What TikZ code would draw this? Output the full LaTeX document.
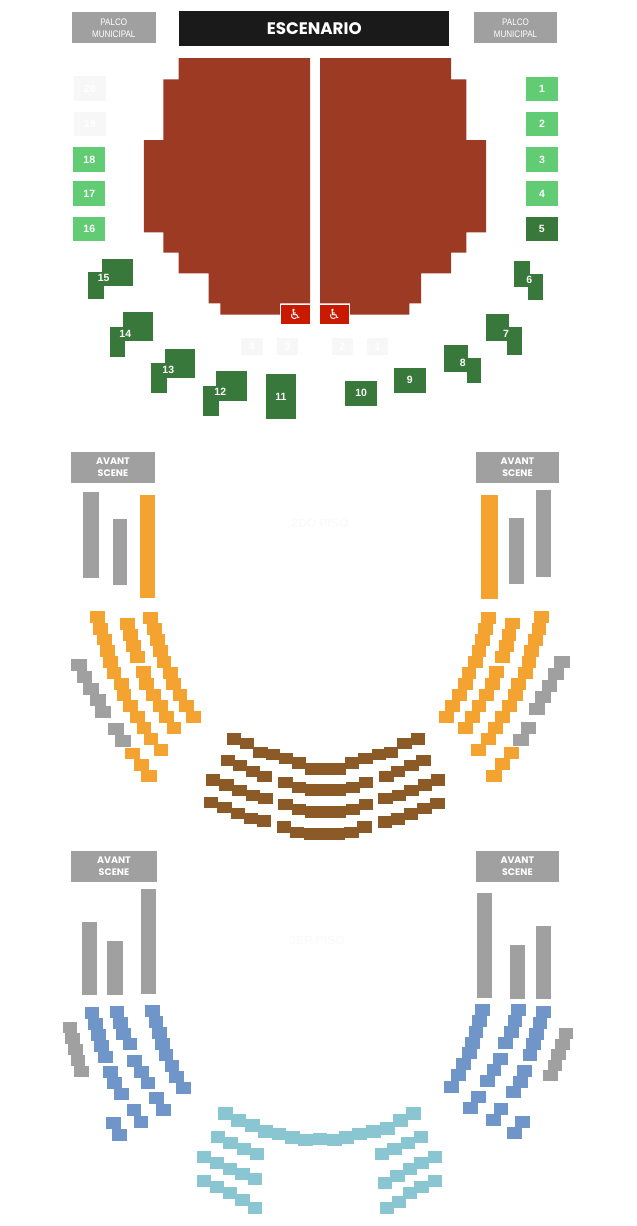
\documentclass[tikz,border=0pt]{standalone}
\usepackage{fontspec}
\setmainfont{Liberation Sans}
\newfontfamily\headfont{Poppins}
\newfontfamily\narrowfont[FakeStretch=0.85]{Liberation Sans}
\newfontfamily\symbfont{DejaVu Sans}
\definecolor{stalls}{HTML}{9C3A24}
\definecolor{stagecol}{HTML}{1A1A1A}
\definecolor{soldgrey}{HTML}{A0A0A0}
\definecolor{lightgreen}{HTML}{62CC75}
\definecolor{darkgreen}{HTML}{38783A}
\definecolor{accessred}{HTML}{C91A00}
\definecolor{faint}{HTML}{F7F7F7}
\definecolor{fainter}{HTML}{FAFAFA}
\definecolor{orangeseat}{HTML}{F4A230}
\definecolor{brownseat}{HTML}{8B5A27}
\definecolor{blueseat}{HTML}{7096C9}
\definecolor{tealseat}{HTML}{8AC6D1}
\tikzset{
  block/.style={inner sep=0pt,outer sep=0pt,align=center},
  palco/.style={block,fill=soldgrey,text=white,minimum width=83.5,minimum height=31,font=\narrowfont\fontsize{9.5}{12}\selectfont},
  avant/.style={block,fill=soldgrey,text=white,minimum width=83.3,minimum height=31,font=\headfont\bfseries\fontsize{9.5}{11.7}\selectfont},
  numbox/.style={block,text=white,minimum width=32,minimum height=24.7,font=\bfseries\fontsize{10.5}{11}\selectfont},
  lightbox/.style={numbox,fill=lightgreen},
  greenbox/.style={numbox,fill=darkgreen},
  emptybox/.style={numbox,fill=faint},
  smallbox/.style={emptybox,minimum width=21.3,minimum height=17.3},
  numlabel/.style={block,text=white,font=\bfseries\fontsize{10.5}{11}\selectfont},
  access/.style={block,fill=accessred,draw=white,line width=0.7,text=white,minimum width=29.6,minimum height=20,font=\symbfont\fontsize{14}{14}\selectfont},
  floorname/.style={block,text=fainter,font=\bfseries\fontsize{12}{12}\selectfont},
  barrow/.style={fill=soldgrey}
}
\begin{document}
\begin{tikzpicture}[x=1pt,y=-1pt]
  \useasboundingbox (0,0) rectangle (637,1226);

  % top plan
  \node[palco] (palcoL) at (113.8,27.8) {PALCO\\MUNICIPAL};
  \node[palco] (palcoR) at (515.5,27.8) {PALCO\\MUNICIPAL};
  \node[block,fill=stagecol,text=white,minimum width=269.7,minimum height=34.4,font=\headfont\bfseries\fontsize{16.7}{16.7}\selectfont] (stage) at (314.2,28.5) {ESCENARIO};

  \fill[stalls] (178.7,58) -- (310,58) -- (310,303.3) -- (280,303.3) -- (280,314.7) -- (220.3,314.7) -- (220.3,303.3)
    -- (208.7,303.3) -- (208.7,273.3) -- (178.7,273.3) -- (178.7,252.7) -- (163.3,252.7) -- (163.3,232.3) -- (143.8,232.3)
    -- (143.8,140) -- (163.3,140) -- (163.3,79.3) -- (178.7,79.3) -- cycle;
  \fill[stalls] (451,58) -- (320,58) -- (320,303.3) -- (350,303.3) -- (350,314.7) -- (409.3,314.7) -- (409.3,303.3)
    -- (421,303.3) -- (421,273.3) -- (451,273.3) -- (451,252.7) -- (466.3,252.7) -- (466.3,232.3) -- (486,232.3)
    -- (486,140) -- (466.3,140) -- (466.3,79.3) -- (451,79.3) -- cycle;
  \node[access] (accessL) at (295.5,314.3) {♿};
  \node[access] (accessR) at (334.5,314.3) {♿};

  \node[emptybox] (b20) at (89.8,88.8) {20};
  \node[emptybox] (b19) at (89.8,124) {19};
  \node[lightbox] (b18) at (89.3,159.5) {18};
  \node[lightbox] (b17) at (89.3,193.7) {17};
  \node[lightbox] (b16) at (89.3,229) {16};
  \node[lightbox] (b1) at (542,89) {1};
  \node[lightbox] (b2) at (542,124) {2};
  \node[lightbox] (b3) at (542,159.5) {3};
  \node[lightbox] (b4) at (542,193.7) {4};
  \node[greenbox] (b5) at (541.9,229) {5};
  \node[smallbox] (s4) at (252,346.7) {4};
  \node[smallbox] (s3) at (287.8,346.7) {3};
  \node[smallbox] (s2) at (342.2,346.7) {2};
  \node[smallbox] (s1) at (377.5,346.7) {1};
  \node[greenbox,minimum width=30,minimum height=45] (b11) at (281,396.5) {11};
  \node[greenbox] (b10) at (361.2,393.2) {10};
  \node[greenbox] (b9) at (409.8,380.3) {9};

  \foreach \xa/\ya/\xb/\yb in {102/258.7/133/285.7, 87.7/272.3/104/299.3, 123.3/312/153.3/341.3, 109.7/326.7/125.3/356.7,
    165/348.7/195/378.3, 151.3/363.3/167/393.3, 216.3/371.3/246.7/401, 203/386/218.7/416,
    443.7/344.7/468.3/371.7, 467.3/358.3/481/383, 486/314/509/341, 507.3/327.3/522.3/354.7,
    514/260.7/529.7/287.3, 527.7/273.7/543/300.3}
    \fill[darkgreen] (\xa,\ya) rectangle (\xb,\yb);
  \node[numlabel] (n15) at (103.7,277.7) {15};
  \node[numlabel] (n14) at (125.3,333.7) {14};
  \node[numlabel] (n13) at (168.3,370.3) {13};
  \node[numlabel] (n12) at (220.3,392.3) {12};
  \node[numlabel] (n8) at (462.7,362.7) {8};
  \node[numlabel] (n7) at (506,334) {7};
  \node[numlabel] (n6) at (529.3,280) {6};

  % middle plan
  \node[avant] (avantL) at (113,467.2) {AVANT\\SCENE};
  \node[avant] (avantR) at (517.5,467.2) {AVANT\\SCENE};
  \node[floorname] (floor2) at (320,523.5) {2DO PISO};
  \fill[barrow] (83,491.7) rectangle (99,578);
  \fill[barrow] (113,518.7) rectangle (127,585);
  \fill[barrow] (509.3,518) rectangle (524,584.3);
  \fill[barrow] (536,490) rectangle (551.3,576.7);
  \fill[orangeseat] (140,494.7) rectangle (155,598);
  \fill[orangeseat] (481.3,495.3) rectangle (498.3,598.7);

  \foreach \a/\b in {90.3/611.3,93.3/623,97/633.7,100.3/645,103/656,106.7/667,114/678,116.7/689,123/700,130/711,136.7/722.3,143.7/733,153.7/744,
    120/618,123.3/629,126.3/640,130/651,
    143.3/612,147.3/623.3,150/634.3,153.3/645,156.7/656.3,163.3/667,166.3/678,172.7/689,179.3/700,186/711,
    136/666.3,139.3/678,146/689,153.3/700,159.3/711,166.7/722.3,
    481.3/612,478/623.3,475/634.3,471.7/645,468.3/656,461.7/667,458.3/678,452.3/689,445.3/700,439/711,
    505/617.7,501.7/629,499/640,495.3/651,
    534.3/611.3,531.7/623,528/634,524.3/645,521.7/656,518.3/667,511/678,508.3/689,502/700,495/711,488.3/722,481.3/733,471.3/744,
    489/666.3,485.3/678,479/689,471.7/700,465.3/711,458.3/722.3}
    \fill[orangeseat] (\a,\b) rectangle ++(14.5,11.6);
  \foreach \a/\b in {124.7/747.7,133.7/759,141/770.3,503.7/747,494.7/758.3,486.3/770}
    \fill[orangeseat] (\a,\b) rectangle ++(15.6,11.6);
  \foreach \a/\b in {71/659,76.7/671,83.3/682.7,90/694.3,95/705.7,108/722.7,115/734.7,
    554/656,548.3/667.7,541.7/679.7,535.3/691.3,529.3/702.7,520.7/722,513.3/734.3}
    \fill[soldgrey] (\a,\b) rectangle ++(15.5,12);

  \foreach \a/\b in {226.7/733.3,240/738,253.3/746.7,265.7/749,279/752.7,292/757.3,
    345/757.3,358.3/752.7,371.7/749,384/746.7,397.3/738,410.7/733.3,
    220.7/755,232.7/760,246/765.7,257.3/771,379.3/770.7,391/765.7,404.3/760,416.3/755,
    205.7/774.3,219.3/779.3,232.3/785,245.7/790,258.3/793,378.3/793,391.7/790,404.3/785,417.7/779.3,431/774.3,
    204/797,217.3/801.7,230.7/807.7,244/812.7,256.7/815.3,377.7/816.3,391/813.3,404/808.3,417.3/802.7,430.3/797.7,
    278.3/776.7,291.7/782,345.7/782,359/776.7,278.3/798.7,291.7/804,345.7/804,359/798.7,
    276.7/821.3,290/826.7,344.3/826.7,357.3/821.3}
    \fill[brownseat] (\a,\b) rectangle ++(14.2,11.3);
  \foreach \a/\b in {305.3/763.3,305.3/784,305.3/806,303.8/828.3}
    \fill[brownseat] (\a,\b) rectangle ++(40.7,11.6);

  % bottom plan
  \node[avant,minimum width=86] (avantL2) at (114,866) {AVANT\\SCENE};
  \node[avant,minimum width=82.7] (avantR2) at (517.4,866) {AVANT\\SCENE};
  \node[floorname] (floor3) at (317,940.5) {3ER PISO};
  \fill[barrow] (82,922) rectangle (97,995);
  \fill[barrow] (107.3,941) rectangle (122.7,994.7);
  \fill[barrow] (141.3,889) rectangle (156.3,994);
  \fill[barrow] (476.7,893) rectangle (491.7,998);
  \fill[barrow] (510.3,945) rectangle (525.3,998.7);
  \fill[barrow] (536,926) rectangle (551,999);

  \foreach \a/\b in {84.7/1007.3,88/1018.3,91/1029,94.3/1040,98/1050.7,
    109.7/1005.7,113/1016.7,116/1027.7,122.7/1038.3,
    145.3/1005.3,148.7/1016.3,152/1027.3,155.3/1038,158.7/1048.7,164.7/1060,169.3/1070.7,176.3/1082.3,
    103.3/1066.3,107.3/1077,114.3/1088,127.3/1054.7,134/1065.7,140.7/1076.7,
    149.3/1092.3,156.3/1103.7,126.7/1104.3,133.7/1116,106/1117.3,112.3/1128.7,
    475.3/1003.7,472/1015,468.7/1025.7,465.3/1036.7,462/1047.3,456/1058.3,451/1069,444.3/1081,
    511/1004,507.7/1015,504.3/1026,498/1036.7,
    536/1006,532.7/1016.7,529.3/1027.7,526.3/1038.3,522.7/1049,
    493.3/1053,486.7/1064,480/1075,517.3/1065,513.3/1075.7,506.3/1086.3,
    471/1091,463.3/1102.3,493.7/1103,486.3/1114.3,515/1115.7,507/1127}
    \fill[blueseat] (\a,\b) rectangle ++(14.7,11.8);
  \foreach \a/\b in {63/1022,65.3/1033.3,68.3/1044.3,71/1055.3,74.3/1065.7,
    559/1027.7,555.3/1038.7,551.3/1049.3,547.7/1059.7,543.3/1070}
    \fill[soldgrey] (\a,\b) rectangle ++(14.2,11);

  \foreach \a/\b in {218.3/1107.3,231/1114,245/1119.3,258.3/1125.3,271.7/1127.7,285/1131,298.3/1133.7,312.7/1132.7,
    327.3/1133.7,339/1131,352.3/1127.7,366/1125.3,380/1122.3,393.3/1114,406/1107.3}
    \fill[tealseat] (\a,\b) rectangle ++(14.7,12.7);
  \foreach \a/\b in {210.7/1131.3,223.3/1136.7,237/1143.3,250/1148.3,375/1148.3,387.3/1143.3,401/1136.7,413.7/1131.3,
    197/1151.3,210/1156.7,222.7/1162.7,235.3/1168.3,248/1172.7,
    377.7/1176.7,390.3/1169.7,403/1162.7,414.3/1156.7,427.7/1151.3,
    197/1175.3,210/1181,222.7/1186.7,235.3/1193.7,248/1201.7,
    379.7/1202,392/1195.7,403/1186.7,414.3/1181,427.7/1175.3}
    \fill[tealseat] (\a,\b) rectangle ++(14.2,11.8);
\end{tikzpicture}
\end{document}
